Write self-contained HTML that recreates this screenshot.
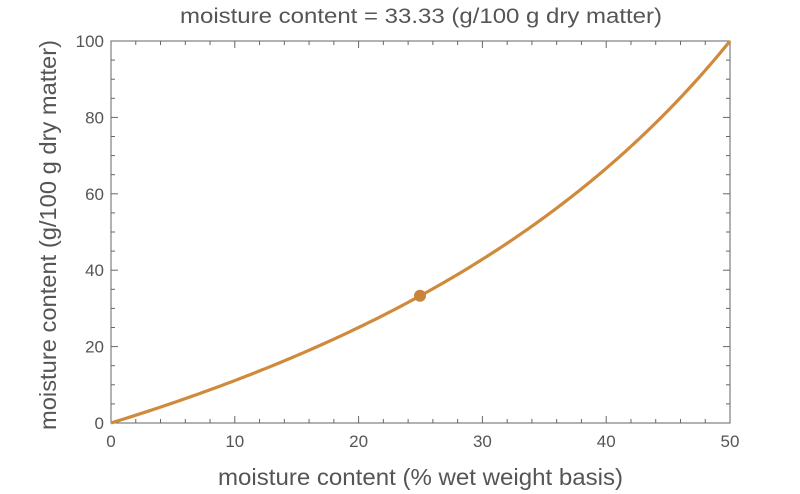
<!DOCTYPE html>
<html><head><style>
body{margin:0;background:#fff;}
svg{display:block;font-family:"Liberation Sans",sans-serif;}
</style></head><body>
<svg id="s" width="800" height="494" xmlns="http://www.w3.org/2000/svg">
<text x="180" y="23" font-size="21" fill="#555" textLength="482" lengthAdjust="spacingAndGlyphs">moisture content = 33.33 (g/100 g dry matter)</text>
<text x="218" y="485" font-size="23" fill="#555" textLength="405" lengthAdjust="spacingAndGlyphs">moisture content (% wet weight basis)</text>
<text transform="translate(56,430) rotate(-90)" font-size="23" fill="#555" textLength="390" lengthAdjust="spacingAndGlyphs">moisture content (g/100 g dry matter)</text>
<rect x="111" y="41" width="619" height="382" fill="none" stroke="#666" stroke-width="1"/>
<g id="ticks" stroke="#666" stroke-width="1"></g>
<g id="labels" font-size="17" fill="#555"></g>
<path id="c" fill="none" stroke="#d08a3c" stroke-width="3.2"/>
<circle cx="420" cy="295.7" r="6" fill="#c8843a"/>
</svg>
<script>
var X0=111,X1=730,Y0=423,Y1=41;
function px(x){return X0+(X1-X0)*x/50}
function py(y){return Y0-(Y0-Y1)*y/100}
var t=document.getElementById('ticks'),l=document.getElementById('labels'),h='',lh='';
for(var x=0;x<=50;x+=2){var L=(x%10==0)?7:4;var p=px(x);
h+='<line x1="'+p+'" y1="'+Y0+'" x2="'+p+'" y2="'+(Y0-L)+'"/><line x1="'+p+'" y1="'+Y1+'" x2="'+p+'" y2="'+(Y1+L)+'"/>';
if(x%10==0)lh+='<text x="'+p+'" y="447" text-anchor="middle">'+x+'</text>';}
for(var y=0;y<=100;y+=5){var L=(y%20==0)?7:4;var q=py(y);
h+='<line x1="'+X0+'" y1="'+q+'" x2="'+(X0+L)+'" y2="'+q+'"/><line x1="'+X1+'" y1="'+q+'" x2="'+(X1-L)+'" y2="'+q+'"/>';
if(y%20==0)lh+='<text x="104" y="'+(q+6)+'" text-anchor="end">'+y+'</text>';}
t.innerHTML=h;l.innerHTML=lh;
var d='';for(var i=0;i<=200;i++){var x=i*0.25,y=100*x/(100-x);d+=(i?'L':'M')+px(x).toFixed(2)+' '+py(y).toFixed(2);}
document.getElementById('c').setAttribute('d',d);
</script>
</body></html>
